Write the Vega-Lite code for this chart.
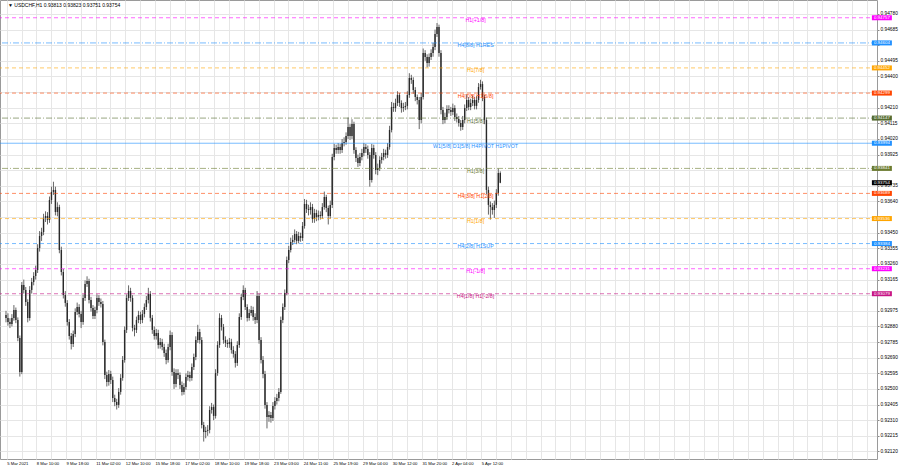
{
"$schema":"https://vega.github.io/schema/vega-lite/v6.json",
"width":877,"height":459,
"autosize":{"type":"none"},
"padding":{"left":0,"top":0,"right":23,"bottom":9},
"background":"white",
"config":{"view":{"stroke":"#9a9a9a","strokeWidth":1},"font":"Liberation Sans"},
"datasets":{
"candles":[
{"t":0,"o":0.9295,"h":0.92975,"l":0.92905,"c":0.92932},
{"t":2,"o":0.92932,"h":0.9296,"l":0.92885,"c":0.92907},
{"t":4,"o":0.92907,"h":0.9293,"l":0.9287,"c":0.92895},
{"t":6,"o":0.92895,"h":0.92955,"l":0.9288,"c":0.92932},
{"t":8,"o":0.92932,"h":0.9301,"l":0.92915,"c":0.9298},
{"t":10,"o":0.9298,"h":0.92995,"l":0.929,"c":0.92919},
{"t":12,"o":0.92919,"h":0.92935,"l":0.9279,"c":0.9281},
{"t":14,"o":0.9281,"h":0.92825,"l":0.92575,"c":0.92603},
{"t":16,"o":0.92603,"h":0.9315,"l":0.9259,"c":0.93132},
{"t":18,"o":0.93132,"h":0.93165,"l":0.9308,"c":0.93102},
{"t":20,"o":0.93102,"h":0.9312,"l":0.93005,"c":0.93029},
{"t":22,"o":0.93029,"h":0.93045,"l":0.92905,"c":0.92932},
{"t":24,"o":0.92932,"h":0.93125,"l":0.92915,"c":0.93102},
{"t":26,"o":0.93102,"h":0.93175,"l":0.9308,"c":0.9315},
{"t":28,"o":0.9315,"h":0.9321,"l":0.9313,"c":0.93187},
{"t":30,"o":0.93187,"h":0.9325,"l":0.93165,"c":0.93223},
{"t":32,"o":0.93223,"h":0.9338,"l":0.93205,"c":0.93357},
{"t":34,"o":0.93357,"h":0.9346,"l":0.93335,"c":0.9343},
{"t":36,"o":0.9343,"h":0.9348,"l":0.934,"c":0.93454},
{"t":38,"o":0.93454,"h":0.93565,"l":0.93435,"c":0.9354},
{"t":40,"o":0.9354,"h":0.9358,"l":0.93515,"c":0.93552},
{"t":42,"o":0.93552,"h":0.93575,"l":0.935,"c":0.93527},
{"t":44,"o":0.93527,"h":0.9367,"l":0.9351,"c":0.93649},
{"t":46,"o":0.93649,"h":0.9373,"l":0.93625,"c":0.93698},
{"t":48,"o":0.93698,"h":0.9376,"l":0.9368,"c":0.9371},
{"t":50,"o":0.9371,"h":0.9373,"l":0.93555,"c":0.93576},
{"t":52,"o":0.93576,"h":0.93635,"l":0.9355,"c":0.93606},
{"t":54,"o":0.93606,"h":0.9362,"l":0.93325,"c":0.93345},
{"t":56,"o":0.93345,"h":0.93365,"l":0.9319,"c":0.93211},
{"t":58,"o":0.93211,"h":0.9323,"l":0.9305,"c":0.93071},
{"t":60,"o":0.93071,"h":0.93095,"l":0.93,"c":0.93023},
{"t":62,"o":0.93023,"h":0.9304,"l":0.92885,"c":0.92907},
{"t":64,"o":0.92907,"h":0.92925,"l":0.928,"c":0.92822},
{"t":66,"o":0.92822,"h":0.9284,"l":0.9274,"c":0.92773},
{"t":68,"o":0.92773,"h":0.92855,"l":0.92755,"c":0.92834},
{"t":70,"o":0.92834,"h":0.9299,"l":0.92815,"c":0.92968},
{"t":72,"o":0.92968,"h":0.93025,"l":0.9295,"c":0.92998},
{"t":74,"o":0.92998,"h":0.93015,"l":0.92935,"c":0.92956},
{"t":76,"o":0.92956,"h":0.92975,"l":0.9287,"c":0.92907},
{"t":78,"o":0.92907,"h":0.93075,"l":0.9289,"c":0.93053},
{"t":80,"o":0.93053,"h":0.9316,"l":0.93035,"c":0.93138},
{"t":82,"o":0.93138,"h":0.93185,"l":0.9312,"c":0.93157},
{"t":84,"o":0.93157,"h":0.9317,"l":0.9302,"c":0.93041},
{"t":86,"o":0.93041,"h":0.9306,"l":0.9297,"c":0.92992},
{"t":88,"o":0.92992,"h":0.9301,"l":0.92925,"c":0.92944},
{"t":90,"o":0.92944,"h":0.93,"l":0.92925,"c":0.9298},
{"t":92,"o":0.9298,"h":0.93075,"l":0.9296,"c":0.93053},
{"t":94,"o":0.93053,"h":0.9307,"l":0.93005,"c":0.93029},
{"t":96,"o":0.93029,"h":0.9305,"l":0.92995,"c":0.93017},
{"t":98,"o":0.93017,"h":0.93035,"l":0.92765,"c":0.92786},
{"t":100,"o":0.92786,"h":0.928,"l":0.9256,"c":0.92585},
{"t":102,"o":0.92585,"h":0.92605,"l":0.92515,"c":0.92542},
{"t":104,"o":0.92542,"h":0.92615,"l":0.9252,"c":0.92591},
{"t":106,"o":0.92591,"h":0.9261,"l":0.9253,"c":0.92555},
{"t":108,"o":0.92555,"h":0.92575,"l":0.9242,"c":0.92445},
{"t":110,"o":0.92445,"h":0.92465,"l":0.92395,"c":0.92421},
{"t":112,"o":0.92421,"h":0.9244,"l":0.92375,"c":0.92403},
{"t":114,"o":0.92403,"h":0.92505,"l":0.92385,"c":0.92482},
{"t":116,"o":0.92482,"h":0.9259,"l":0.92465,"c":0.92567},
{"t":118,"o":0.92567,"h":0.927,"l":0.9255,"c":0.92676},
{"t":120,"o":0.92676,"h":0.9288,"l":0.9266,"c":0.92859},
{"t":122,"o":0.92859,"h":0.93075,"l":0.9284,"c":0.93053},
{"t":124,"o":0.93053,"h":0.9313,"l":0.93035,"c":0.93096},
{"t":126,"o":0.93096,"h":0.93115,"l":0.9303,"c":0.93053},
{"t":128,"o":0.93053,"h":0.9307,"l":0.9285,"c":0.92871},
{"t":130,"o":0.92871,"h":0.9289,"l":0.9282,"c":0.92859},
{"t":132,"o":0.92859,"h":0.9294,"l":0.9284,"c":0.92919},
{"t":134,"o":0.92919,"h":0.92975,"l":0.929,"c":0.9295},
{"t":136,"o":0.9295,"h":0.9297,"l":0.92895,"c":0.92919},
{"t":138,"o":0.92919,"h":0.9298,"l":0.929,"c":0.92956},
{"t":140,"o":0.92956,"h":0.9302,"l":0.92935,"c":0.92998},
{"t":142,"o":0.92998,"h":0.93065,"l":0.9298,"c":0.93041},
{"t":144,"o":0.93041,"h":0.93115,"l":0.9302,"c":0.93078},
{"t":146,"o":0.93078,"h":0.93095,"l":0.9291,"c":0.92932},
{"t":148,"o":0.92932,"h":0.9295,"l":0.92835,"c":0.92859},
{"t":150,"o":0.92859,"h":0.9288,"l":0.928,"c":0.92822},
{"t":152,"o":0.92822,"h":0.92865,"l":0.928,"c":0.9284},
{"t":154,"o":0.9284,"h":0.9286,"l":0.92745,"c":0.92767},
{"t":156,"o":0.92767,"h":0.9281,"l":0.92745,"c":0.92786},
{"t":158,"o":0.92786,"h":0.92805,"l":0.92735,"c":0.92755},
{"t":160,"o":0.92755,"h":0.92775,"l":0.92695,"c":0.92719},
{"t":162,"o":0.92719,"h":0.9274,"l":0.9265,"c":0.92676},
{"t":164,"o":0.92676,"h":0.92775,"l":0.9266,"c":0.92755},
{"t":166,"o":0.92755,"h":0.92855,"l":0.92735,"c":0.92828},
{"t":168,"o":0.92828,"h":0.92845,"l":0.9258,"c":0.92603},
{"t":170,"o":0.92603,"h":0.92625,"l":0.925,"c":0.9253},
{"t":172,"o":0.9253,"h":0.9262,"l":0.9251,"c":0.92597},
{"t":174,"o":0.92597,"h":0.9262,"l":0.9256,"c":0.92585},
{"t":176,"o":0.92585,"h":0.926,"l":0.925,"c":0.92524},
{"t":178,"o":0.92524,"h":0.92545,"l":0.9246,"c":0.92482},
{"t":180,"o":0.92482,"h":0.92535,"l":0.92465,"c":0.92512},
{"t":182,"o":0.92512,"h":0.92595,"l":0.92495,"c":0.92573},
{"t":184,"o":0.92573,"h":0.9261,"l":0.9255,"c":0.92585},
{"t":186,"o":0.92585,"h":0.92605,"l":0.92545,"c":0.92567},
{"t":188,"o":0.92567,"h":0.92655,"l":0.9255,"c":0.92634},
{"t":190,"o":0.92634,"h":0.92715,"l":0.92615,"c":0.92694},
{"t":192,"o":0.92694,"h":0.9282,"l":0.92675,"c":0.92798},
{"t":194,"o":0.92798,"h":0.9289,"l":0.9278,"c":0.92846},
{"t":196,"o":0.92846,"h":0.92865,"l":0.92775,"c":0.92798},
{"t":198,"o":0.92798,"h":0.92815,"l":0.9226,"c":0.92281},
{"t":200,"o":0.92281,"h":0.923,"l":0.9218,"c":0.92238},
{"t":202,"o":0.92238,"h":0.9227,"l":0.922,"c":0.92245},
{"t":204,"o":0.92245,"h":0.9228,"l":0.92215,"c":0.92251},
{"t":206,"o":0.92251,"h":0.92395,"l":0.9223,"c":0.92372},
{"t":208,"o":0.92372,"h":0.92415,"l":0.9235,"c":0.9239},
{"t":210,"o":0.9239,"h":0.92405,"l":0.9231,"c":0.92336},
{"t":212,"o":0.92336,"h":0.9262,"l":0.9232,"c":0.92597},
{"t":214,"o":0.92597,"h":0.9279,"l":0.9258,"c":0.92767},
{"t":216,"o":0.92767,"h":0.9296,"l":0.9275,"c":0.92932},
{"t":218,"o":0.92932,"h":0.9295,"l":0.92855,"c":0.92877},
{"t":220,"o":0.92877,"h":0.92895,"l":0.92775,"c":0.92798},
{"t":222,"o":0.92798,"h":0.9282,"l":0.92755,"c":0.9278},
{"t":224,"o":0.9278,"h":0.928,"l":0.9275,"c":0.92773},
{"t":226,"o":0.92773,"h":0.9281,"l":0.9275,"c":0.92786},
{"t":228,"o":0.92786,"h":0.92805,"l":0.92715,"c":0.92737},
{"t":230,"o":0.92737,"h":0.9276,"l":0.9269,"c":0.92713},
{"t":232,"o":0.92713,"h":0.9273,"l":0.9263,"c":0.92658},
{"t":234,"o":0.92658,"h":0.9279,"l":0.9264,"c":0.92767},
{"t":236,"o":0.92767,"h":0.9296,"l":0.9275,"c":0.92938},
{"t":238,"o":0.92938,"h":0.9308,"l":0.9292,"c":0.93059},
{"t":240,"o":0.93059,"h":0.9313,"l":0.9304,"c":0.93102},
{"t":242,"o":0.93102,"h":0.93115,"l":0.9298,"c":0.92998},
{"t":244,"o":0.92998,"h":0.93015,"l":0.9291,"c":0.92932},
{"t":246,"o":0.92932,"h":0.92985,"l":0.92915,"c":0.92962},
{"t":248,"o":0.92962,"h":0.93005,"l":0.92945,"c":0.9298},
{"t":250,"o":0.9298,"h":0.93,"l":0.92915,"c":0.92938},
{"t":252,"o":0.92938,"h":0.9296,"l":0.92895,"c":0.92919},
{"t":254,"o":0.92919,"h":0.93095,"l":0.929,"c":0.93065},
{"t":256,"o":0.93065,"h":0.9308,"l":0.92775,"c":0.92798},
{"t":258,"o":0.92798,"h":0.92815,"l":0.92655,"c":0.92676},
{"t":260,"o":0.92676,"h":0.927,"l":0.92565,"c":0.92591},
{"t":262,"o":0.92591,"h":0.9261,"l":0.9238,"c":0.92403},
{"t":264,"o":0.92403,"h":0.9242,"l":0.9226,"c":0.9233},
{"t":266,"o":0.9233,"h":0.92365,"l":0.923,"c":0.92342},
{"t":268,"o":0.92342,"h":0.9236,"l":0.92295,"c":0.92324},
{"t":270,"o":0.92324,"h":0.9242,"l":0.92305,"c":0.92397},
{"t":272,"o":0.92397,"h":0.9245,"l":0.92375,"c":0.92427},
{"t":274,"o":0.92427,"h":0.9247,"l":0.92405,"c":0.92445},
{"t":276,"o":0.92445,"h":0.92505,"l":0.92425,"c":0.92482},
{"t":278,"o":0.92482,"h":0.9294,"l":0.9247,"c":0.92919},
{"t":280,"o":0.92919,"h":0.9302,"l":0.929,"c":0.92998},
{"t":282,"o":0.92998,"h":0.93105,"l":0.9298,"c":0.93084},
{"t":284,"o":0.93084,"h":0.93305,"l":0.9307,"c":0.93284},
{"t":286,"o":0.93284,"h":0.9337,"l":0.93265,"c":0.93345},
{"t":288,"o":0.93345,"h":0.9342,"l":0.9333,"c":0.93394},
{"t":290,"o":0.93394,"h":0.93435,"l":0.93375,"c":0.93406},
{"t":292,"o":0.93406,"h":0.9347,"l":0.9339,"c":0.93442},
{"t":294,"o":0.93442,"h":0.9346,"l":0.9338,"c":0.934},
{"t":296,"o":0.934,"h":0.93455,"l":0.93385,"c":0.9343},
{"t":298,"o":0.9343,"h":0.9345,"l":0.93395,"c":0.93418},
{"t":300,"o":0.93418,"h":0.93515,"l":0.934,"c":0.93491},
{"t":302,"o":0.93491,"h":0.93655,"l":0.93475,"c":0.93625},
{"t":304,"o":0.93625,"h":0.9365,"l":0.9357,"c":0.93594},
{"t":306,"o":0.93594,"h":0.9362,"l":0.93555,"c":0.93588},
{"t":308,"o":0.93588,"h":0.93635,"l":0.9356,"c":0.93606},
{"t":310,"o":0.93606,"h":0.93625,"l":0.9351,"c":0.93533},
{"t":312,"o":0.93533,"h":0.93595,"l":0.9351,"c":0.9357},
{"t":314,"o":0.9357,"h":0.9359,"l":0.9352,"c":0.93546},
{"t":316,"o":0.93546,"h":0.93585,"l":0.93525,"c":0.93558},
{"t":318,"o":0.93558,"h":0.9358,"l":0.9353,"c":0.93552},
{"t":320,"o":0.93552,"h":0.9363,"l":0.93535,"c":0.93606},
{"t":322,"o":0.93606,"h":0.937,"l":0.9359,"c":0.93667},
{"t":324,"o":0.93667,"h":0.9368,"l":0.93575,"c":0.936},
{"t":326,"o":0.936,"h":0.93615,"l":0.935,"c":0.93552},
{"t":328,"o":0.93552,"h":0.93645,"l":0.93535,"c":0.93619},
{"t":330,"o":0.93619,"h":0.9393,"l":0.936,"c":0.9391},
{"t":332,"o":0.9391,"h":0.9399,"l":0.9389,"c":0.93965},
{"t":334,"o":0.93965,"h":0.93985,"l":0.9393,"c":0.93953},
{"t":336,"o":0.93953,"h":0.93995,"l":0.9393,"c":0.93971},
{"t":338,"o":0.93971,"h":0.9399,"l":0.9393,"c":0.93953},
{"t":340,"o":0.93953,"h":0.9402,"l":0.93935,"c":0.93996},
{"t":342,"o":0.93996,"h":0.9403,"l":0.93975,"c":0.94002},
{"t":344,"o":0.94002,"h":0.9406,"l":0.93985,"c":0.94038},
{"t":346,"o":0.94038,"h":0.9415,"l":0.9402,"c":0.94093},
{"t":348,"o":0.94093,"h":0.9411,"l":0.94015,"c":0.94038},
{"t":350,"o":0.94038,"h":0.9414,"l":0.9402,"c":0.94111},
{"t":352,"o":0.94111,"h":0.94125,"l":0.9393,"c":0.93953},
{"t":354,"o":0.93953,"h":0.9397,"l":0.9388,"c":0.93904},
{"t":356,"o":0.93904,"h":0.93925,"l":0.9385,"c":0.93874},
{"t":358,"o":0.93874,"h":0.93935,"l":0.93855,"c":0.9391},
{"t":360,"o":0.9391,"h":0.9396,"l":0.9389,"c":0.93935},
{"t":362,"o":0.93935,"h":0.93995,"l":0.93915,"c":0.93971},
{"t":364,"o":0.93971,"h":0.9399,"l":0.93935,"c":0.93959},
{"t":366,"o":0.93959,"h":0.9398,"l":0.939,"c":0.93923},
{"t":368,"o":0.93923,"h":0.9394,"l":0.9373,"c":0.93771},
{"t":370,"o":0.93771,"h":0.9399,"l":0.93755,"c":0.93965},
{"t":372,"o":0.93965,"h":0.93985,"l":0.939,"c":0.93923},
{"t":374,"o":0.93923,"h":0.9394,"l":0.93805,"c":0.93831},
{"t":376,"o":0.93831,"h":0.9387,"l":0.938,"c":0.93844},
{"t":378,"o":0.93844,"h":0.93915,"l":0.93825,"c":0.93892},
{"t":380,"o":0.93892,"h":0.93935,"l":0.9387,"c":0.9391},
{"t":382,"o":0.9391,"h":0.9396,"l":0.9389,"c":0.93935},
{"t":384,"o":0.93935,"h":0.93955,"l":0.939,"c":0.93923},
{"t":386,"o":0.93923,"h":0.93995,"l":0.93905,"c":0.93971},
{"t":388,"o":0.93971,"h":0.941,"l":0.93955,"c":0.94075},
{"t":390,"o":0.94075,"h":0.94245,"l":0.9406,"c":0.94214},
{"t":392,"o":0.94214,"h":0.9424,"l":0.94185,"c":0.94208},
{"t":394,"o":0.94208,"h":0.94265,"l":0.94185,"c":0.94239},
{"t":396,"o":0.94239,"h":0.9431,"l":0.9422,"c":0.94287},
{"t":398,"o":0.94287,"h":0.943,"l":0.94215,"c":0.94239},
{"t":400,"o":0.94239,"h":0.94255,"l":0.9418,"c":0.94208},
{"t":402,"o":0.94208,"h":0.9424,"l":0.94185,"c":0.94214},
{"t":404,"o":0.94214,"h":0.94245,"l":0.94195,"c":0.94221},
{"t":406,"o":0.94221,"h":0.9431,"l":0.942,"c":0.94287},
{"t":408,"o":0.94287,"h":0.9442,"l":0.9427,"c":0.94391},
{"t":410,"o":0.94391,"h":0.9441,"l":0.94355,"c":0.94379},
{"t":412,"o":0.94379,"h":0.94395,"l":0.94295,"c":0.94318},
{"t":414,"o":0.94318,"h":0.94335,"l":0.9425,"c":0.94275},
{"t":416,"o":0.94275,"h":0.9429,"l":0.9423,"c":0.94257},
{"t":418,"o":0.94257,"h":0.94275,"l":0.9408,"c":0.94135},
{"t":420,"o":0.94135,"h":0.943,"l":0.94115,"c":0.94275},
{"t":422,"o":0.94275,"h":0.9457,"l":0.9426,"c":0.94543},
{"t":424,"o":0.94543,"h":0.9456,"l":0.94495,"c":0.94518},
{"t":426,"o":0.94518,"h":0.94535,"l":0.94455,"c":0.94482},
{"t":428,"o":0.94482,"h":0.9454,"l":0.9446,"c":0.94518},
{"t":430,"o":0.94518,"h":0.94565,"l":0.945,"c":0.94543},
{"t":432,"o":0.94543,"h":0.94605,"l":0.9452,"c":0.94579},
{"t":434,"o":0.94579,"h":0.94685,"l":0.9456,"c":0.94658},
{"t":436,"o":0.94658,"h":0.94725,"l":0.9464,"c":0.94701},
{"t":438,"o":0.94701,"h":0.94715,"l":0.9452,"c":0.94543},
{"t":440,"o":0.94543,"h":0.9456,"l":0.9417,"c":0.94196},
{"t":442,"o":0.94196,"h":0.94215,"l":0.9411,"c":0.94135},
{"t":444,"o":0.94135,"h":0.9418,"l":0.94115,"c":0.94154},
{"t":446,"o":0.94154,"h":0.94225,"l":0.94135,"c":0.94202},
{"t":448,"o":0.94202,"h":0.94225,"l":0.94175,"c":0.94196},
{"t":450,"o":0.94196,"h":0.94215,"l":0.9416,"c":0.94184},
{"t":452,"o":0.94184,"h":0.94235,"l":0.94165,"c":0.94208},
{"t":454,"o":0.94208,"h":0.94225,"l":0.9413,"c":0.94154},
{"t":456,"o":0.94154,"h":0.94175,"l":0.9412,"c":0.94141},
{"t":458,"o":0.94141,"h":0.9416,"l":0.94095,"c":0.94117},
{"t":460,"o":0.94117,"h":0.94135,"l":0.9407,"c":0.94093},
{"t":462,"o":0.94093,"h":0.9416,"l":0.94075,"c":0.94135},
{"t":464,"o":0.94135,"h":0.9423,"l":0.94115,"c":0.94208},
{"t":466,"o":0.94208,"h":0.9429,"l":0.9419,"c":0.94257},
{"t":468,"o":0.94257,"h":0.94275,"l":0.94195,"c":0.94214},
{"t":470,"o":0.94214,"h":0.94265,"l":0.94195,"c":0.94239},
{"t":472,"o":0.94239,"h":0.94285,"l":0.9422,"c":0.94257},
{"t":474,"o":0.94257,"h":0.94275,"l":0.942,"c":0.94221},
{"t":476,"o":0.94221,"h":0.9428,"l":0.942,"c":0.94257},
{"t":478,"o":0.94257,"h":0.9436,"l":0.9424,"c":0.94336},
{"t":480,"o":0.94336,"h":0.9438,"l":0.9432,"c":0.94354},
{"t":482,"o":0.94354,"h":0.9437,"l":0.9425,"c":0.94275},
{"t":484,"o":0.94275,"h":0.9429,"l":0.9411,"c":0.94135},
{"t":486,"o":0.94135,"h":0.9415,"l":0.93685,"c":0.9371},
{"t":488,"o":0.9371,"h":0.9373,"l":0.9356,"c":0.93619},
{"t":490,"o":0.93619,"h":0.9364,"l":0.9353,"c":0.93606},
{"t":492,"o":0.93606,"h":0.9363,"l":0.9356,"c":0.93588},
{"t":494,"o":0.93588,"h":0.93645,"l":0.9354,"c":0.93619},
{"t":496,"o":0.93619,"h":0.93715,"l":0.936,"c":0.93692},
{"t":498,"o":0.93692,"h":0.9384,"l":0.93675,"c":0.93813},
{"t":500,"o":0.93813,"h":0.93823,"l":0.93751,"c":0.93754}
],
"levels":[
{"p":0.94757,"label":"H1[+1/8]","kind":"dash"},
{"p":0.94604,"label":"H4[8/8] H1RES","kind":"dashdot"},
{"p":0.94452,"label":"H1[7/8]","kind":"dash"},
{"p":0.94299,"label":"H4[7/8] H1[6/8]","kind":"dash"},
{"p":0.94147,"label":"H1[5/8]","kind":"dashdot"},
{"p":0.93994,"label":"W1[5/8] D1[5/8] H4PIVOT H1PIVOT","kind":"solid"},
{"p":0.93841,"label":"H1[3/8]","kind":"dashdot"},
{"p":0.93689,"label":"H4[3/8] H1[2/8]","kind":"dash"},
{"p":0.93536,"label":"H1[1/8]","kind":"dash"},
{"p":0.93384,"label":"H4[2/8] H1SUP","kind":"dash"},
{"p":0.93231,"label":"H1[-1/8]","kind":"dash"},
{"p":0.93079,"label":"H4[1/8] H1[-2/8]","kind":"dash"}
],
"last":[{"p":0.93754}],
"header":[{"txt":"\u25bc USDCHF,H1  0.93813 0.93823 0.93751 0.93754"}]
},
"layer":[
{"data":{"name":"candles"},
 "mark":{"type":"rule","color":"#666666","strokeWidth":1},
 "encoding":{
  "x":{"field":"t","type":"quantitative","scale":{"domain":[-1,876],"nice":false,"zero":false},
   "axis":{"orient":"bottom","title":null,"domain":false,"ticks":false,"grid":true,"gridColor":"#e6e6e6","gridWidth":1,"tickCount":200,
    "values":[0.7,15.7,30.7,45.7,60.7,75.7,90.7,105.7,120.7,135.7,150.7,165.7,180.7,195.7,210.7,225.7,240.7,255.7,270.7,285.7,300.7,315.7,330.7,345.7,360.7,375.7,390.7,405.7,420.7,435.7,450.7,465.7,480.7,495.7,510.7,525.7,540.7,555.7,570.7,585.7,600.7,615.7,630.7,645.7,660.7,675.7,690.7,705.7,720.7,735.7,750.7,765.7,780.7,795.7,810.7,825.7,840.7,855.7,870.7],
    "labelExpr":"(round((datum.value-0.7)/15) % 2 == 0 && round((datum.value-0.7)/15) <= 32) ? ['5 Mar 2021','8 Mar 10:00','9 Mar 18:00','11 Mar 02:00','12 Mar 10:00','15 Mar 18:00','17 Mar 02:00','18 Mar 10:00','19 Mar 18:00','23 Mar 03:00','24 Mar 11:00','25 Mar 19:00','29 Mar 04:00','30 Mar 12:00','31 Mar 20:00','2 Apr 04:00','5 Apr 12:00'][round((datum.value-0.7)/30)] : ''",
    "labelAlign":"left","labelFontSize":4.2,"labelColor":"#000000","labelPadding":2,"labelOverlap":false,"labelBound":false,"labelFlush":false}},
  "y":{"field":"l","type":"quantitative","scale":{"domain":[0.92074,0.94865],"nice":false,"zero":false},
   "axis":{"orient":"right","title":null,"domain":false,"tickSize":2,"tickColor":"#888888","grid":true,"gridColor":"#e6e6e6","gridWidth":1,"tickCount":200,
    "values":[0.9478,0.94685,0.9459,0.94495,0.944,0.94305,0.9421,0.94115,0.9402,0.93925,0.9383,0.93735,0.9364,0.93545,0.9345,0.93355,0.9326,0.93165,0.9307,0.92975,0.9288,0.92785,0.9269,0.92595,0.925,0.92405,0.9231,0.92215,0.9212],
    "labelExpr":"indexof([0.9459,0.94305,0.9383,0.93545,0.9307], datum.value) >= 0 ? '' : format(datum.value, '.5f')",
    "labelFontSize":4.8,"labelColor":"#000000","labelPadding":1,"labelOverlap":false,"labelBound":false,"labelFlush":false}},
  "y2":{"field":"h"}}},
{"data":{"name":"candles"},
 "mark":{"type":"bar","color":"#2a2a2a","width":1.4},
 "encoding":{
  "x":{"field":"t","type":"quantitative","scale":{"domain":[-1,876],"nice":false,"zero":false}},
  "y":{"field":"o","type":"quantitative","scale":{"domain":[0.92074,0.94865],"nice":false,"zero":false}},
  "y2":{"field":"c"}}},
{"data":{"name":"levels"},
 "mark":{"type":"rule","strokeWidth":1,"strokeOpacity":0.6},
 "encoding":{
  "y":{"field":"p","type":"quantitative","scale":{"domain":[0.92074,0.94865],"nice":false,"zero":false}},
  "color":{"field":"label","type":"nominal","legend":null,"scale":{"domain":["H1[+1/8]","H4[8/8] H1RES","H1[7/8]","H4[7/8] H1[6/8]","H1[5/8]","W1[5/8] D1[5/8] H4PIVOT H1PIVOT","H1[3/8]","H4[3/8] H1[2/8]","H1[1/8]","H4[2/8] H1SUP","H1[-1/8]","H4[1/8] H1[-2/8]"],"range":["#FF00FF","#1E90FF","#FFA500","#FF4500","#556B2F","#1E90FF","#6B7B2F","#FF4500","#FFA500","#1E90FF","#FF00FF","#C71585"]}},
  "strokeDash":{"field":"kind","type":"nominal","legend":null,"scale":{"domain":["dash","dashdot","solid"],"range":[[4,3],[6,2,1,2],[1,0]]}}}},
{"data":{"name":"levels"},
 "mark":{"type":"text","fontSize":5.3,"align":"center","baseline":"middle","dy":2.5},
 "encoding":{
  "x":{"datum":475,"type":"quantitative","scale":{"domain":[-1,876],"nice":false,"zero":false}},
  "y":{"field":"p","type":"quantitative","scale":{"domain":[0.92074,0.94865],"nice":false,"zero":false}},
  "text":{"field":"label"},
  "color":{"field":"label","type":"nominal","legend":null}}},
{"data":{"name":"levels"},
 "mark":{"type":"point","shape":"M-1,-0.25H1V0.25H-1Z","filled":true,"opacity":1,"size":400},
 "encoding":{
  "x":{"datum":886,"type":"quantitative","scale":{"domain":[-1,876],"nice":false,"zero":false}},
  "y":{"field":"p","type":"quantitative","scale":{"domain":[0.92074,0.94865],"nice":false,"zero":false}},
  "color":{"field":"label","type":"nominal","legend":null}}},
{"data":{"name":"levels"},
 "mark":{"type":"text","fontSize":4.4,"align":"center","baseline":"middle","color":"white"},
 "encoding":{
  "x":{"datum":886,"type":"quantitative","scale":{"domain":[-1,876],"nice":false,"zero":false}},
  "y":{"field":"p","type":"quantitative","scale":{"domain":[0.92074,0.94865],"nice":false,"zero":false}},
  "text":{"field":"p","type":"quantitative","format":".5f"}}},
{"data":{"name":"last"},
 "mark":{"type":"point","shape":"M-1,-0.25H1V0.25H-1Z","filled":true,"opacity":1,"size":400,"color":"#000000"},
 "encoding":{
  "x":{"datum":886,"type":"quantitative","scale":{"domain":[-1,876],"nice":false,"zero":false}},
  "y":{"field":"p","type":"quantitative","scale":{"domain":[0.92074,0.94865],"nice":false,"zero":false}}}},
{"data":{"name":"last"},
 "mark":{"type":"text","fontSize":4.4,"align":"center","baseline":"middle","color":"white"},
 "encoding":{
  "x":{"datum":886,"type":"quantitative","scale":{"domain":[-1,876],"nice":false,"zero":false}},
  "y":{"field":"p","type":"quantitative","scale":{"domain":[0.92074,0.94865],"nice":false,"zero":false}},
  "text":{"field":"p","type":"quantitative","format":".5f"}}},
{"data":{"name":"header"},
 "mark":{"type":"text","fontSize":5,"align":"left","baseline":"middle","color":"#000000"},
 "encoding":{
  "x":{"datum":2,"type":"quantitative","scale":{"domain":[-1,876],"nice":false,"zero":false}},
  "y":{"datum":0.94833,"type":"quantitative","scale":{"domain":[0.92074,0.94865],"nice":false,"zero":false}},
  "text":{"field":"txt"}}}
]
}
